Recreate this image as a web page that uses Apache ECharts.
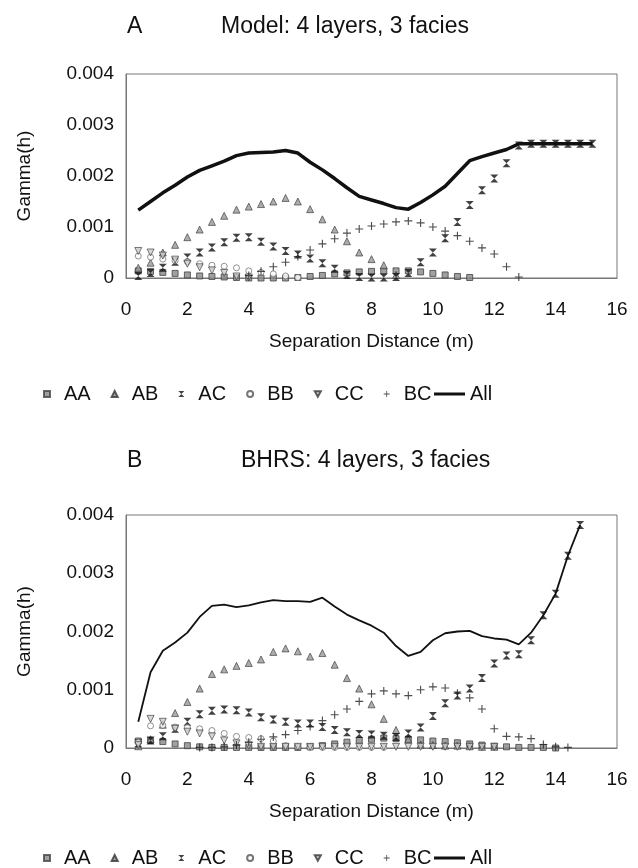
<!DOCTYPE html>
<html>
<head>
<meta charset="utf-8">
<script src="https://cdn.jsdelivr.net/npm/echarts@6/dist/echarts.min.js"></script>
<style>
  body { margin: 0; background: #fff; }
  .chart { width: 638px; height: 434px; }
</style>
</head>
<body>
<div class="chart" id="chartA"></div>
<div class="chart" id="chartB"></div>
<script>
// 横轴：间隔 0.4 m
var xGrid = [0.4, 0.8, 1.2, 1.6, 2.0, 2.4, 2.8, 3.2, 3.6, 4.0, 4.4, 4.8, 5.2, 5.6, 6.0, 6.4, 6.8, 7.2, 7.6, 8.0,
  8.4, 8.8, 9.2, 9.6, 10.0, 10.4, 10.8, 11.2, 11.6, 12.0, 12.4, 12.8, 13.2, 13.6, 14.0, 14.4, 14.8, 15.2];
var yTicks = ['0', '0.001', '0.002', '0.003', '0.004'];
var markNames = ['AA', 'AB', 'AC', 'BB', 'CC', 'BC'];

// A: Model
var aAA = [0.00014, 0.00013, 0.00011, 0.00009, 0.00006, 0.00004, 0.00003, 0.00002, 0.00001, 0, 0, 0, 0, 0.00001, 0.00003, 0.00005, 0.00008, 0.0001, 0.00012, 0.00013,
  0.00014, 0.00014, 0.00014, 0.00012, 0.00009, 0.00006, 0.00003, 0.00001];
var aAB = [0.0002, 0.0003, 0.0005, 0.00065, 0.0008, 0.00095, 0.0011, 0.00122, 0.00134, 0.0014, 0.00145, 0.0015, 0.00157, 0.0015, 0.00135, 0.00115, 0.00095, 0.00072, 0.0005, 0.00037,
  0.00025, 0.00006];
var aAC = [0.00004, 0.0001, 0.0002, 0.00032, 0.0004, 0.0005, 0.0006, 0.0007, 0.00079, 0.0008, 0.00071, 0.00062, 0.00053, 0.00046, 0.00038, 0.00029, 0.00018, 0.00006, 0.00002, 0.00001,
  0.00001, 0.00002, 0.0001, 0.00031, 0.0005, 0.00078, 0.0011, 0.00143, 0.00172, 0.00195, 0.00225, 0.0026, 0.00263, 0.00263, 0.00263, 0.00263, 0.00263, 0.00263];
var aBB = [0.00043, 0.00041, 0.00037, 0.00034, 0.00032, 0.00028, 0.00025, 0.00023, 0.0002, 0.00014, 0.00011, 0.00008, 0.00004, 0.00001];
var aCC = [0.00053, 0.0005, 0.00044, 0.00036, 0.00028, 0.00021, 0.00015, 0.0001, 0.00003, 0.00001];
var aBC = [null, null, null, null, null, null, null, null, null, 0.00005, 0.00013, 0.00022, 0.00031, 0.00042, 0.00055, 0.00067, 0.00077, 0.00088, 0.00096, 0.00102,
  0.00106, 0.0011, 0.00112, 0.00108, 0.001, 0.00092, 0.00083, 0.00072, 0.00059, 0.00047, 0.00022, 0.00002];
var aAll = [0.00133, 0.0015, 0.00167, 0.00182, 0.00198, 0.00211, 0.0022, 0.00229, 0.0024, 0.00245, 0.00246, 0.00247, 0.0025, 0.00245, 0.00227, 0.00212, 0.00195, 0.00177, 0.0016, 0.00153,
  0.00146, 0.00138, 0.00135, 0.00148, 0.00163, 0.0018, 0.00205, 0.0023, 0.00238, 0.00245, 0.00252, 0.00263, 0.00263, 0.00263, 0.00263, 0.00263, 0.00263, 0.00263];

// B: BHRS
var bAA = [0.00012, 0.00013, 0.00011, 0.00007, 0.00004, 0.00002, 0.00001, 0.00001, 0.00001, 0.00001, 0.00001, 0.00001, 0.00001, 0.00001, 0.00002, 0.00004, 0.00007, 0.0001, 0.00013, 0.00015,
  0.00017, 0.00016, 0.00015, 0.00014, 0.00012, 0.00011, 0.00009, 0.00007, 0.00005, 0.00003, 0.00002, 0.00001, 0.00001, 0.00001, 0];
var bAB = [0.00003, 0.00015, 0.0004, 0.0006, 0.00079, 0.00102, 0.00127, 0.00135, 0.00141, 0.00146, 0.00152, 0.00165, 0.00171, 0.00166, 0.00157, 0.00163, 0.00143, 0.0012, 0.00102, 0.00075,
  0.0005, 0.00031, 0.00015, 0.00006, 0.00005, 0.00004, 0.00004, 0.00003, 0.00002, 0.00002];
var bAC = [0.00008, 0.00013, 0.0002, 0.00033, 0.00045, 0.00058, 0.00064, 0.00066, 0.00065, 0.00061, 0.00053, 0.00049, 0.00045, 0.00042, 0.00042, 0.00036, 0.00031, 0.00027, 0.00024, 0.00023,
  0.00021, 0.00019, 0.00025, 0.00035, 0.00055, 0.00077, 0.0009, 0.00102, 0.0012, 0.00145, 0.00159, 0.00161, 0.00185, 0.00228, 0.00265, 0.0033, 0.00383];
var bBB = [0.0001, 0.00038, 0.00039, 0.00036, 0.00035, 0.00033, 0.0003, 0.00025, 0.0002, 0.00018, 0.00016, 0.00012, 0.00004, 0.00002, 0.00001, 0.00001, 0.00001, 0.00001, 0.00001, 0.00001,
  0.00001];
var bCC = [0.00005, 0.0005, 0.00045, 0.00033, 0.00028, 0.00025, 0.0002, 0.00013, 0.00008, 0.00004, 0.00002, 0.00002, 0.00002, 0.00002, 0.00002, 0.00002, 0.00002, 0.00002, 0.00002, 0.00002,
  0.00002, 0.00002, 0.00002, 0.00002, 0.00002, 0.00002, 0.00002, 0.00002, 0.00002, 0.00002];
var bBC = [null, null, null, null, null, 0.00001, 0.00001, 0.00002, 0.00005, 0.0001, 0.00015, 0.00019, 0.00023, 0.0003, 0.00037, 0.00047, 0.00057, 0.00067, 0.0008, 0.00093,
  0.00098, 0.00093, 0.0009, 0.001, 0.00105, 0.00103, 0.00094, 0.00086, 0.00067, 0.00033, 0.0002, 0.00019, 0.00016, 0.00006, 0.00002, 0.00001];
var bAll = [0.00045, 0.0013, 0.00167, 0.00181, 0.00198, 0.00225, 0.00244, 0.00246, 0.00242, 0.00245, 0.0025, 0.00254, 0.00252, 0.00252, 0.00251, 0.00258, 0.00243, 0.00229, 0.00219, 0.0021,
  0.00198, 0.00175, 0.00158, 0.00165, 0.00185, 0.00197, 0.002, 0.00201, 0.00192, 0.00188, 0.00186, 0.00178, 0.00198, 0.00228, 0.00265, 0.0033, 0.00383];

var FONT = 'Liberation Sans';
// 标记样式
var markStyle = {
  AA: { symbol: 'rect', size: 6, itemStyle: { color: '#888', borderColor: '#444', borderWidth: 1 } },
  AB: { symbol: 'triangle', size: 7, itemStyle: { color: '#999', borderColor: '#333', borderWidth: 0.8 } },
  AC: { symbol: 'path://M0,0L10,0L5,5L10,10L0,10L5,5Z', size: 8, itemStyle: { color: '#111' } },
  BB: { symbol: 'circle', size: 6, itemStyle: { color: '#fff', borderColor: '#555', borderWidth: 0.8 } },
  CC: { symbol: 'path://M0,0L10,0L5,9Z', size: 7, itemStyle: { color: '#ccc', borderColor: '#333', borderWidth: 0.8 } },
  BC: { symbol: 'path://M4.3,0H5.7V4.3H10V5.7H5.7V10H4.3V5.7H0V4.3H4.3Z', size: 8, itemStyle: { color: '#222' } }
};

function pairs(arr) {
  var out = [];
  for (var i = 0; i < arr.length; i++) {
    if (arr[i] !== null) out.push([xGrid[i], arr[i]]);
  }
  return out;
}

function makeOption(letter, title, titleLeft, gridTop, gridBottom, legendTop, data, allWidth) {
  var series = [];
  markNames.forEach(function (n) {
    var s = markStyle[n];
    series.push({
      name: n, type: 'scatter', data: pairs(data[n]),
      symbol: s.symbol, symbolSize: s.size, itemStyle: s.itemStyle, z: 3
    });
  });
  series.push({
    name: 'All', type: 'line', data: pairs(data.All), showSymbol: false,
    lineStyle: { color: '#111', width: allWidth }, itemStyle: { color: '#111' }, z: 2
  });
  return {
    animation: false,
    textStyle: { fontFamily: FONT },
    title: [
      { text: letter, left: 122, top: 10, textStyle: { fontFamily: FONT, fontSize: 23, fontWeight: 'normal', color: '#111' } },
      { text: title, left: titleLeft, top: 10, textStyle: { fontFamily: FONT, fontSize: 23, fontWeight: 'normal', color: '#111' } }
    ],
    legend: [
      {
        top: legendTop, left: 38, itemGap: 20, itemWidth: 6, itemHeight: 6,
        data: markNames.map(function (n) { return { name: n, icon: markStyle[n].symbol }; }),
        textStyle: { fontFamily: FONT, fontSize: 20, color: '#111', padding: [0, 0, 0, 9] }
      },
      {
        top: legendTop, left: 429, itemWidth: 31, itemHeight: 3,
        data: [{ name: 'All', icon: 'rect' }],
        textStyle: { fontFamily: FONT, fontSize: 20, color: '#111' }
      }
    ],
    grid: { left: 126, right: 21, top: gridTop, bottom: gridBottom, show: true, borderColor: '#777', borderWidth: 1 },
    xAxis: {
      type: 'value', min: 0, max: 16, interval: 2,
      name: 'Separation Distance (m)', nameLocation: 'middle', nameGap: 54,
      nameTextStyle: { fontFamily: FONT, fontSize: 19, color: '#111' },
      axisLine: { lineStyle: { color: '#777' } },
      axisTick: { show: false },
      axisLabel: { fontFamily: FONT, fontSize: 19, color: '#111', margin: 22 },
      splitLine: { show: false }
    },
    yAxis: {
      type: 'value', min: 0, max: 0.004, interval: 0.001,
      name: 'Gamma(h)', nameLocation: 'middle', nameGap: 92,
      nameTextStyle: { fontFamily: FONT, fontSize: 19, color: '#111' },
      axisLine: { show: true, lineStyle: { color: '#777' } },
      axisTick: { show: false },
      axisLabel: {
        fontFamily: FONT, fontSize: 19, color: '#111', margin: 12,
        formatter: function (v) { return yTicks[Math.round(v / 0.001)]; }
      },
      splitLine: { show: false }
    },
    series: series
  };
}

// A 图
(function () {
  var myChart = echarts.init(document.getElementById('chartA'));
  myChart.setOption(makeOption('A', 'Model: 4 layers, 3 facies', 216, 74, 156, 379,
    { AA: aAA, AB: aAB, AC: aAC, BB: aBB, CC: aCC, BC: aBC, All: aAll }, 3.5));
})();
// B 图
(function () {
  var myChart = echarts.init(document.getElementById('chartB'));
  myChart.setOption(makeOption('B', 'BHRS: 4 layers, 3 facies', 236, 81, 120, 409,
    { AA: bAA, AB: bAB, AC: bAC, BB: bBB, CC: bCC, BC: bBC, All: bAll }, 1.8));
})();
</script>
</body>
</html>
